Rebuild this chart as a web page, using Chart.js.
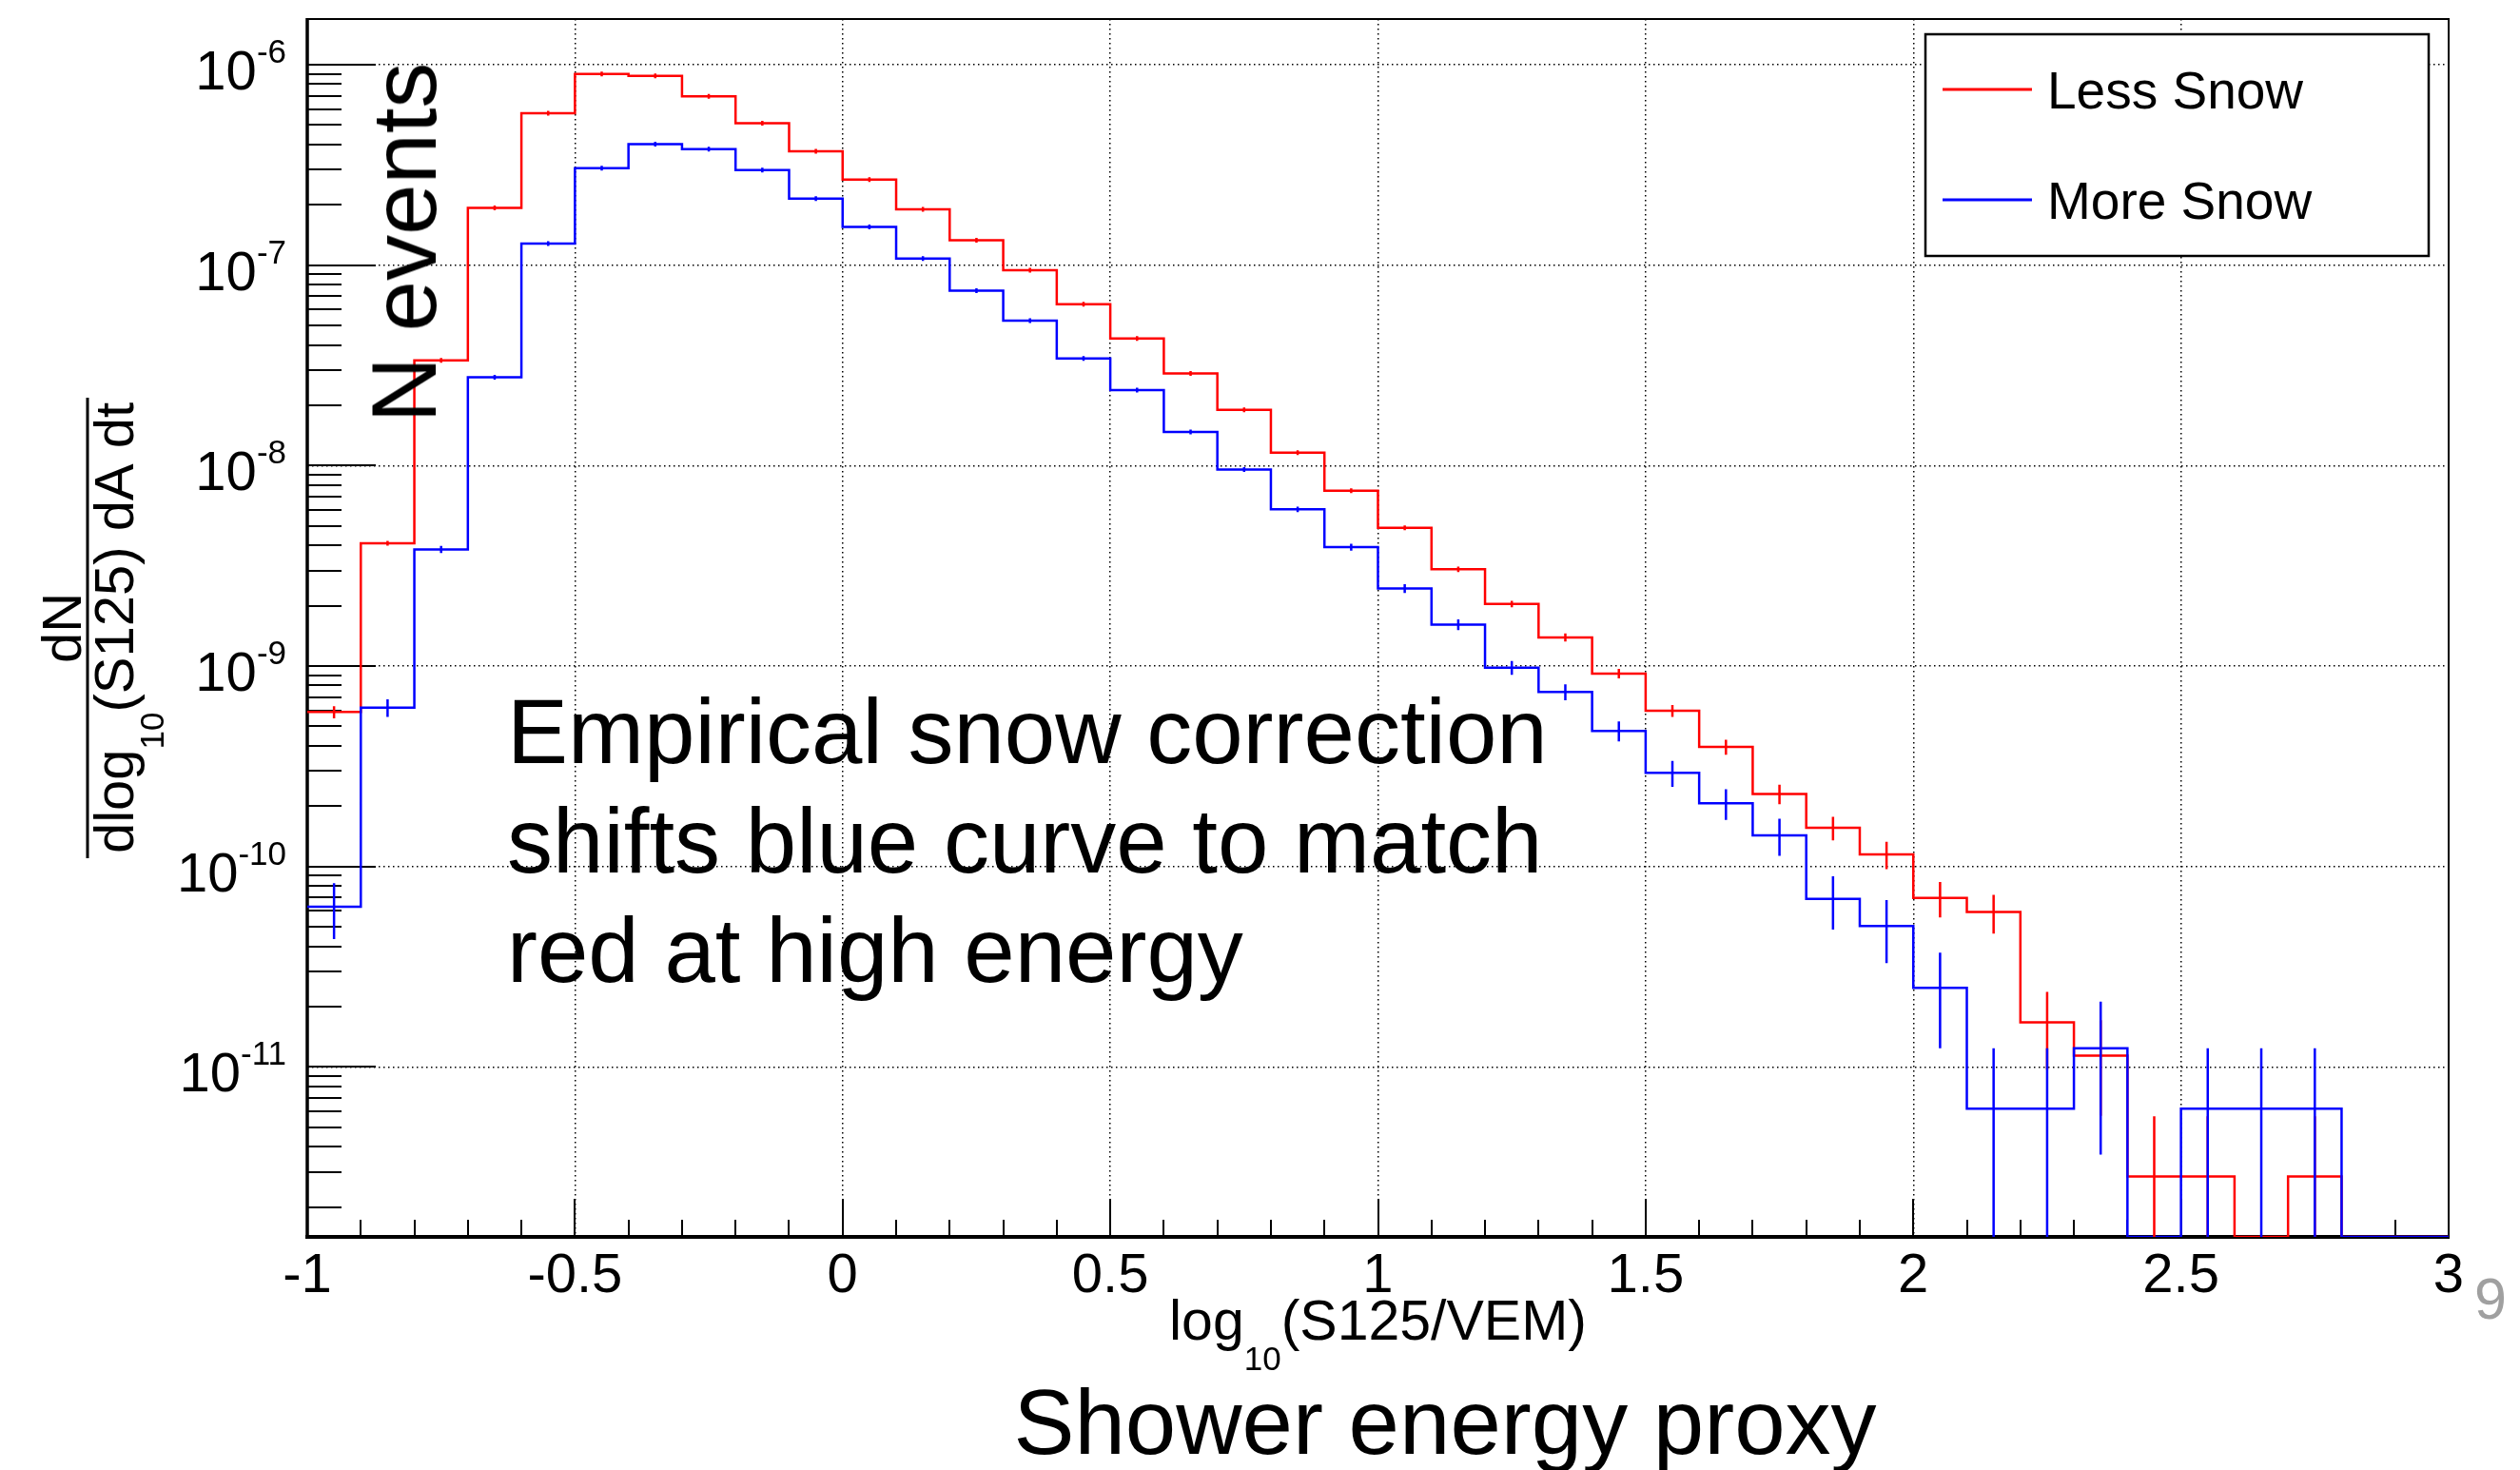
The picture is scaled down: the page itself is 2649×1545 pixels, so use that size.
<!DOCTYPE html>
<html>
<head>
<meta charset="utf-8">
<script src="https://cdn.jsdelivr.net/npm/chart.js@4.4.1/dist/chart.umd.min.js"></script>
<style>
  html, body { margin: 0; padding: 0; background: #fff; }
  #wrap { position: relative; width: 2649px; height: 1545px; overflow: hidden; font-family: "Liberation Sans", Arial, sans-serif; }
  #chart { position: absolute; left: 0; top: 0; }
  .note { position: absolute; white-space: nowrap; color: #000; }
  #nEvents { left: 425px; top: 255px; font-size: 96px; line-height: 96px; transform: translate(-50%, -50%) rotate(-90deg); }
  #annot { left: 533px; top: 711px; font-size: 96px; line-height: 115px; }
  #proxy { left: 1519px; top: 1447px; font-size: 96px; line-height: 96px; transform: translateX(-50%); }
  #page { left: 2618px; top: 1335px; font-size: 61px; line-height: 61px; color: #a0a0a0; transform: translateX(-50%); }
</style>
</head>
<body>
<div id="wrap">
  <canvas id="chart" width="2649" height="1545"></canvas>
  <div class="note" id="nEvents">N events</div>
  <div class="note" id="annot">Empirical snow correction<br>shifts blue curve to match<br>red at high energy</div>
  <div class="note" id="proxy">Shower energy proxy</div>
  <div class="note" id="page">9</div>
</div>
<script>
// bin edges of log10(S125/VEM), 0.1 wide
var binEdges = [-1.0, -0.9, -0.8, -0.7, -0.6, -0.5, -0.4, -0.3, -0.2, -0.1,
                0.0, 0.1, 0.2, 0.3, 0.4, 0.5, 0.6, 0.7, 0.8, 0.9,
                1.0, 1.1, 1.2, 1.3, 1.4, 1.5, 1.6, 1.7, 1.8, 1.9,
                2.0, 2.1, 2.2, 2.3, 2.4, 2.5, 2.6, 2.7, 2.8, 2.9, 3.0];

var lessSnow = [5.9e-10, 4.1e-9, 3.35e-8, 1.93e-7, 5.72e-7, 9.0e-7, 8.8e-7, 6.95e-7, 5.1e-7, 3.7e-7,
                2.67e-7, 1.9e-7, 1.33e-7, 9.44e-8, 6.38e-8, 4.31e-8, 2.88e-8, 1.90e-8, 1.16e-8, 7.5e-9,
                4.89e-9, 3.04e-9, 2.04e-9, 1.39e-9, 9.18e-10, 5.98e-10, 3.95e-10, 2.30e-10, 1.56e-10, 1.15e-10,
                6.97e-11, 5.93e-11, 1.67e-11, 1.14e-11, 2.84e-12, 2.84e-12, 0, 2.84e-12, 0, 0];
var lessSnowErr = [4.1e-11, 1.08e-10, 3.1e-10, 7.4e-10, 1.27e-9, 1.6e-9, 1.58e-9, 1.4e-9, 1.2e-9, 1.03e-9,
                   8.7e-10, 7.3e-10, 6.1e-10, 5.2e-10, 4.3e-10, 3.5e-10, 2.9e-10, 2.3e-10, 1.8e-10, 1.46e-10,
                   1.18e-10, 9.3e-11, 7.6e-11, 6.3e-11, 5.1e-11, 4.1e-11, 3.35e-11, 2.56e-11, 2.1e-11, 1.8e-11,
                   1.4e-11, 1.3e-11, 7.0e-12, 5.7e-12, 2.84e-12, 2.84e-12, 0, 2.84e-12, 0, 0];

var moreSnow = [6.3e-11, 6.2e-10, 3.82e-9, 2.76e-8, 1.28e-7, 3.05e-7, 4.02e-7, 3.79e-7, 2.98e-7, 2.15e-7,
                1.55e-7, 1.08e-7, 7.46e-8, 5.28e-8, 3.42e-8, 2.38e-8, 1.47e-8, 9.55e-9, 6.05e-9, 3.92e-9,
                2.44e-9, 1.61e-9, 9.82e-10, 7.43e-10, 4.75e-10, 2.93e-10, 2.07e-10, 1.43e-10, 6.9e-11, 5.05e-11,
                2.48e-11, 6.19e-12, 6.19e-12, 1.24e-11, 0, 6.19e-12, 6.19e-12, 6.19e-12, 0, 0];
var moreSnowErr = [1.96e-11, 6.2e-11, 1.54e-10, 4.1e-10, 8.9e-10, 1.37e-9, 1.58e-9, 1.53e-9, 1.36e-9, 1.15e-9,
                   9.8e-10, 8.2e-10, 6.8e-10, 5.7e-10, 4.6e-10, 3.8e-10, 3.0e-10, 2.4e-10, 1.94e-10, 1.56e-10,
                   1.23e-10, 1.0e-10, 7.8e-11, 6.8e-11, 5.4e-11, 4.3e-11, 3.6e-11, 3.0e-11, 2.05e-11, 1.75e-11,
                   1.24e-11, 6.19e-12, 6.19e-12, 8.75e-12, 0, 6.19e-12, 6.19e-12, 6.19e-12, 0, 0];

var xTickValues = [-1, -0.5, 0, 0.5, 1, 1.5, 2, 2.5, 3];
var xTickLabels = ['-1', '-0.5', '0', '0.5', '1', '1.5', '2', '2.5', '3'];
var yTickValues = [1e-11, 1e-10, 1e-9, 1e-8, 1e-7, 1e-6];
var yTickExponents = ['-11', '-10', '-9', '-8', '-7', '-6'];
var seriesNames = ['Less Snow', 'More Snow'];

var Y_MIN = 1.42e-12, Y_MAX = 1.69e-6;
var RED = '#ff0000', BLUE = '#0000ff';
var FONT = '"Liberation Sans", Arial, sans-serif';

// histogram as step line: one point per left bin edge, plus the last right edge
function stepPoints(values) {
    var pts = values.map(function(v, i) {
        return {x: binEdges[i], y: v > 0 ? v : Y_MIN};
    });
    pts.push({x: binEdges[values.length], y: pts[pts.length - 1].y});
    return pts;
}

function drawFrame(chart) {
    var ctx = chart.ctx, a = chart.chartArea, xs = chart.scales.x, ys = chart.scales.y;
    ctx.save();
    ctx.strokeStyle = '#000';
    ctx.lineWidth = 2;
    ctx.beginPath();
    ctx.moveTo(a.left, a.top);
    ctx.lineTo(a.right, a.top);
    ctx.lineTo(a.right, a.bottom);
    ctx.stroke();
    ctx.lineWidth = 3.5;
    ctx.beginPath();
    ctx.moveTo(a.left, a.top - 1);
    ctx.lineTo(a.left, a.bottom + 2);
    ctx.stroke();
    ctx.lineWidth = 4;
    ctx.beginPath();
    ctx.moveTo(a.left - 2, a.bottom);
    ctx.lineTo(a.right + 1, a.bottom);
    ctx.stroke();

    // ROOT style ticks, pointing into the frame
    ctx.lineWidth = 2;
    ctx.beginPath();
    for (var n = -12; n <= -6; n++) {
        for (var k = 1; k <= 9; k++) {
            var v = k * Math.pow(10, n);
            if (v < Y_MIN || v > Y_MAX) continue;
            var y = Math.round(ys.getPixelForValue(v));
            ctx.moveTo(a.left, y);
            ctx.lineTo(a.left + (k === 1 ? 72 : 36), y);
        }
    }
    binEdges.forEach(function(e) {
        var x = Math.round(xs.getPixelForValue(e));
        ctx.moveTo(x, a.bottom);
        ctx.lineTo(x, a.bottom - 18);
    });
    xTickValues.forEach(function(e) {
        var x = Math.round(xs.getPixelForValue(e));
        ctx.moveTo(x, a.bottom);
        ctx.lineTo(x, a.bottom - 40);
    });
    ctx.stroke();
    ctx.restore();
}

function drawErrors(chart) {
    var ctx = chart.ctx, a = chart.chartArea, xs = chart.scales.x, ys = chart.scales.y;
    ctx.save();
    ctx.beginPath();
    ctx.rect(a.left, a.top, a.right - a.left, a.bottom - a.top + 2);
    ctx.clip();
    ctx.lineWidth = 2.5;
    [[lessSnow, lessSnowErr, RED], [moreSnow, moreSnowErr, BLUE]].forEach(function(s) {
        ctx.strokeStyle = s[2];
        ctx.beginPath();
        s[0].forEach(function(v, i) {
            if (!(v > 0)) return;
            var err = s[1][i];
            var x = xs.getPixelForValue((binEdges[i] + binEdges[i + 1]) / 2);
            var yv = ys.getPixelForValue(v);
            var yTop = Math.min(ys.getPixelForValue(v + err), yv - 2.5);
            var lo = v - err;
            var yBot = lo > Y_MIN ? Math.max(ys.getPixelForValue(lo), yv + 2.5) : a.bottom;
            ctx.moveTo(x, yTop);
            ctx.lineTo(x, yBot);
        });
        ctx.stroke();
    });
    ctx.restore();
}

// text with a raised or lowered part: parts = [[text, size, shift], ...]
function partsWidth(ctx, parts) {
    var w = 0;
    parts.forEach(function(p) {
        ctx.font = p[1] + 'px ' + FONT;
        w += ctx.measureText(p[0]).width;
    });
    return w;
}

function drawParts(ctx, parts, x, baseline) {
    ctx.textAlign = 'left';
    parts.forEach(function(p) {
        ctx.font = p[1] + 'px ' + FONT;
        ctx.fillText(p[0], x, baseline + p[2]);
        x += ctx.measureText(p[0]).width;
    });
}

function drawLabels(chart) {
    var ctx = chart.ctx, a = chart.chartArea, xs = chart.scales.x, ys = chart.scales.y;
    ctx.save();
    ctx.fillStyle = '#000';
    ctx.textBaseline = 'alphabetic';

    ctx.font = '58px ' + FONT;
    ctx.textAlign = 'center';
    xTickValues.forEach(function(v, i) {
        ctx.fillText(xTickLabels[i], xs.getPixelForValue(v), a.bottom + 58);
    });

    yTickValues.forEach(function(v, i) {
        var parts = [['10', 58, 0], [yTickExponents[i], 35, -28]];
        var w = partsWidth(ctx, parts);
        drawParts(ctx, parts, a.left - 22 - w, ys.getPixelForValue(v) + 26);
    });

    // x axis title
    var xt = [['log', 59, 0], ['10', 35, 32], ['(S125/VEM)', 59, 0]];
    var xw = partsWidth(ctx, xt);
    drawParts(ctx, xt, (a.left + a.right) / 2 - xw / 2, a.bottom + 108);

    // y axis title, a fraction turned on its side
    ctx.translate(0, 660);
    ctx.rotate(-Math.PI / 2);
    ctx.font = '58px ' + FONT;
    ctx.textAlign = 'center';
    ctx.fillText('dN', 0, 85);
    ctx.fillRect(-242, 90.5, 484, 3);
    var yt = [['dlog', 58, 0], ['10', 35, 32], ['(S125) dA dt', 58, 0]];
    var yw = partsWidth(ctx, yt);
    drawParts(ctx, yt, -yw / 2, 140);
    ctx.restore();
}

function drawLegend(chart) {
    var ctx = chart.ctx, a = chart.chartArea;
    var left = a.right - 550, top = a.top + 16, w = 529, h = 233;
    ctx.save();
    ctx.fillStyle = '#fff';
    ctx.fillRect(left, top, w, h);
    ctx.strokeStyle = '#000';
    ctx.lineWidth = 2.5;
    ctx.strokeRect(left, top, w, h);
    [RED, BLUE].forEach(function(c, i) {
        var y = top + 58 + i * 116;
        ctx.strokeStyle = c;
        ctx.lineWidth = 3;
        ctx.beginPath();
        ctx.moveTo(left + 18, y);
        ctx.lineTo(left + 112, y);
        ctx.stroke();
        ctx.fillStyle = '#000';
        ctx.font = '55px ' + FONT;
        ctx.textAlign = 'left';
        ctx.fillText(seriesNames[i], left + 128, y + 20);
    });
    ctx.restore();
}

var rootStyle = {
    id: 'rootStyle',
    beforeDatasetsDraw: function(chart) { drawFrame(chart); },
    afterDatasetsDraw: function(chart) { drawErrors(chart); },
    afterDraw: function(chart) { drawLabels(chart); drawLegend(chart); }
};

var gridLine = {
    color: '#000',
    lineWidth: 1.5,
    drawTicks: false
};

var config = {
    type: 'line',
    data: {
        datasets: [{
            label: seriesNames[1],
            data: stepPoints(moreSnow),
            borderColor: BLUE,
            borderWidth: 2.5,
            stepped: 'before',
            pointRadius: 0,
            fill: false,
            order: 0
        }, {
            label: seriesNames[0],
            data: stepPoints(lessSnow),
            borderColor: RED,
            borderWidth: 2.5,
            stepped: 'before',
            pointRadius: 0,
            fill: false,
            order: 1
        }]
    },
    options: {
        responsive: false,
        animation: false,
        devicePixelRatio: 1,
        layout: { padding: { left: 0, top: 20, right: 75, bottom: 0 } },
        plugins: { legend: { display: false }, tooltip: { enabled: false } },
        scales: {
            x: {
                type: 'linear',
                min: -1,
                max: 3,
                ticks: { display: false, stepSize: 0.5 },
                grid: gridLine,
                border: { display: false, dash: [1.5, 3.5] },
                afterFit: function(scale) { scale.height = 245; }
            },
            y: {
                type: 'logarithmic',
                min: Y_MIN,
                max: Y_MAX,
                ticks: { display: false },
                grid: gridLine,
                border: { display: false, dash: [1.5, 3.5] },
                afterBuildTicks: function(scale) {
                    scale.ticks = yTickValues.map(function(v) { return {value: v}; });
                },
                afterFit: function(scale) { scale.width = 323; }
            }
        }
    },
    plugins: [rootStyle]
};

new Chart(document.getElementById('chart').getContext('2d'), config);
</script>
</body>
</html>
